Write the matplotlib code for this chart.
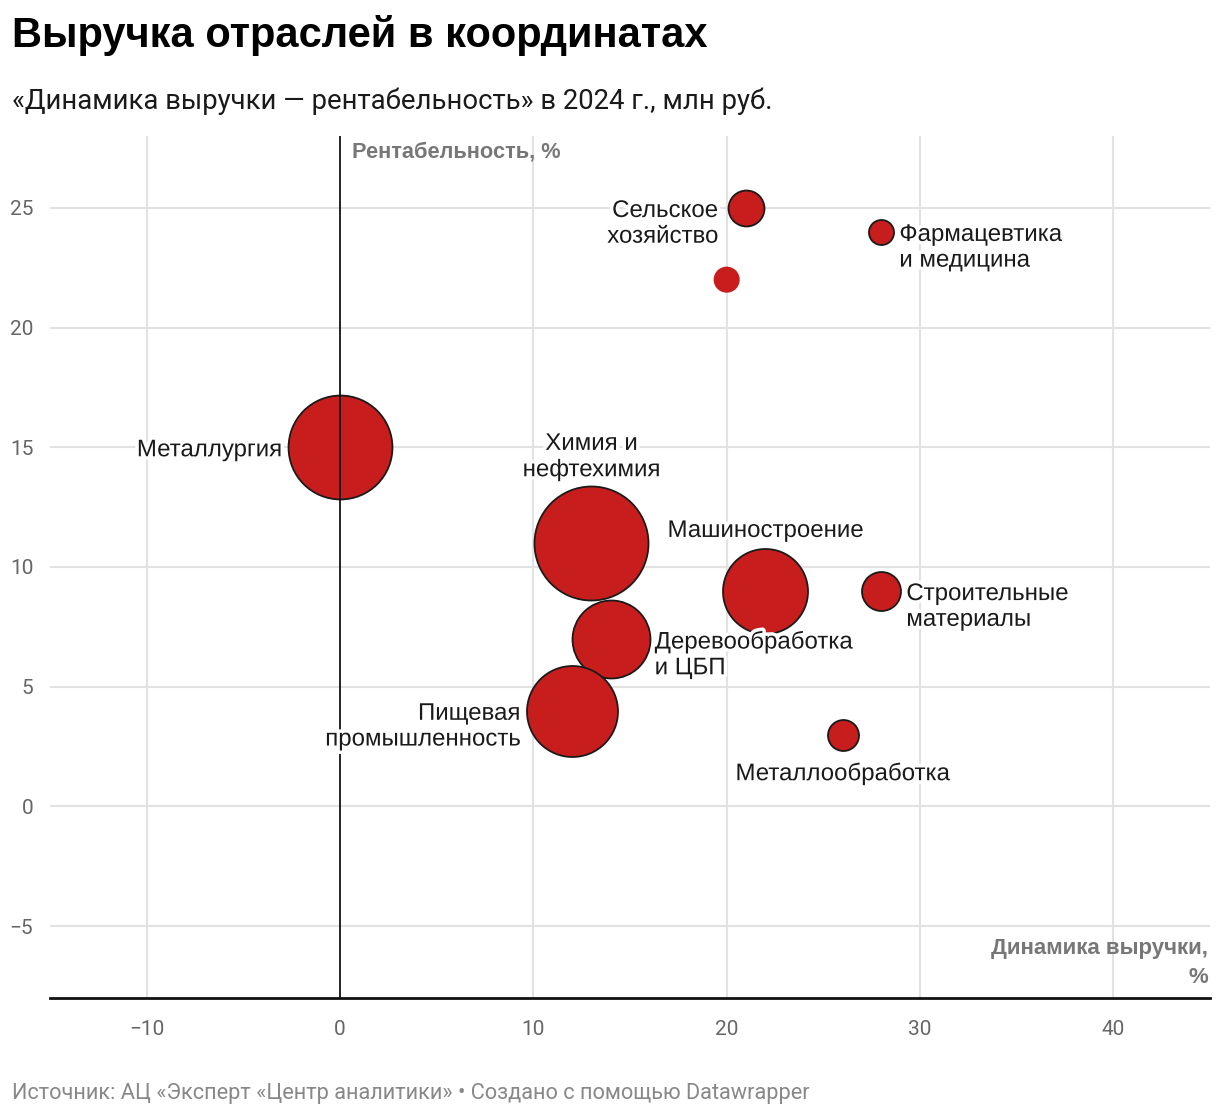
import matplotlib
matplotlib.use("Agg")
import matplotlib.pyplot as plt
import matplotlib.patheffects as pe
import numpy as np
from matplotlib import font_manager

# ---- data ----
industries = ["Металлургия", "Химия и\nнефтехимия", "Машиностроение", "Деревообработка\nи ЦБП",
              "Пищевая\nпромышленность", "Сельское\nхозяйство", "", "Фармацевтика\nи медицина",
              "Строительные\nматериалы", "Металлообработка"]
revenue_growth = [0, 13, 22, 14, 12, 21, 20, 28, 28, 26]          # %
profitability = [15, 11, 9, 7, 4, 25, 22, 24, 9, 3]               # %
revenue = [8100, 9750, 5420, 4560, 6210, 970, 510, 470, 1140, 720]  # bubble size values (estimated)
has_outline = [True, True, True, True, True, True, False, True, True, True]
x_ticks = [-10, 0, 10, 20, 30, 40]
y_ticks = [-5, 0, 5, 10, 15, 20, 25]

# label placement (offset in pixels, alignment)
label_pos = [(-58, -3, "right"), (0, 86, "center"), (0, 60, "center"), (44, -16, "left"),
             (-52, -16, "right"), (-28, -16, "right"), (0, 0, "center"), (18, -16, "left"),
             (25, -16, "left"), (0, -39, "center")]

names = {f.name for f in font_manager.fontManager.ttflist}
def pick(*cands):
    for c in cands:
        if c in names:
            return c
    return "DejaVu Sans"

title_font = pick("Liberation Sans Narrow", "Liberation Sans", "Roboto")
label_font = pick("Liberation Sans", "Roboto")
tick_font = pick("Roboto", "Liberation Sans")

DPI = 100
fig = plt.figure(figsize=(12.2, 11.16), dpi=DPI)
ax = fig.add_axes([50/1220, 1-998/1116, 1160/1220, (998-136)/1116])
ax.set_xlim(-15, 45)
ax.set_ylim(-8, 28)

grid_c = "#e2e2e2"
for xt in x_ticks:
    if xt != 0:
        ax.axvline(xt, color=grid_c, lw=1.5, zorder=0)
for yt in y_ticks:
    ax.axhline(yt, color=grid_c, lw=1.5, zorder=0)

for s in ["top", "right", "left"]:
    ax.spines[s].set_visible(False)
ax.spines["bottom"].set_color("#111111")
ax.spines["bottom"].set_linewidth(2)
ax.spines["bottom"].set_zorder(5)

# bubbles
rmax_px = 57.0
rev_max = max(revenue)
radii_px = [rmax_px * np.sqrt(r / rev_max) for r in revenue]
sizes = [(2 * r * 72 / DPI) ** 2 for r in radii_px]
for x, y, s, o in zip(revenue_growth, profitability, sizes, has_outline):
    ax.scatter([x], [y], s=s, color="#c71e1d", edgecolors="#1a1a1a" if o else "none",
               linewidths=1.3 if o else 0, zorder=3)

ax.axvline(0, color="#111111", lw=1.3, zorder=4)

# labels
halo = [pe.withStroke(linewidth=5, foreground="white")]
for name, x, y, (dx, dy, ha) in zip(industries, revenue_growth, profitability, label_pos):
    if not name:
        continue
    ax.annotate(name, xy=(x, y), xytext=(dx, dy), textcoords="offset pixels",
                ha=ha, va="center", fontsize=17.3, family=label_font, color="#1a1a1a",
                linespacing=1.22, zorder=6, path_effects=halo)

ax.set_xticks(x_ticks)
ax.set_yticks(y_ticks)
ax.set_xticklabels([f"{t}".replace("-", "−") for t in x_ticks])
ax.set_yticklabels([f"{t}".replace("-", "−") for t in y_ticks])
ax.tick_params(axis="both", length=0, labelsize=15, labelcolor="#666666")
ax.tick_params(axis="x", pad=16)
ax.tick_params(axis="y", pad=12)
for lab in ax.get_xticklabels() + ax.get_yticklabels():
    lab.set_family(tick_font)

# axis titles
ax.annotate("Рентабельность, %", xy=(0, 28), xytext=(12, -16), textcoords="offset pixels",
            ha="left", va="center", fontsize=15.7, fontweight="bold", color="#777777",
            family=label_font, zorder=6)
ax.annotate("Динамика выручки,\n%", xy=(45, -8), xytext=(-2, 35), textcoords="offset pixels",
            ha="right", va="center", fontsize=16, fontweight="bold", color="#777777",
            family=label_font, linespacing=1.5, zorder=6)

# title, subtitle, footer
fig.text(12/1220, 1-35/1116, "Выручка отраслей в координатах", ha="left", va="center",
         fontsize=30, fontweight="bold", family=title_font, color="#000000")
fig.text(12/1220, 1-101/1116, "«Динамика выручки — рентабельность» в 2024 г., млн руб.",
         ha="left", va="center", fontsize=19.8, family=tick_font, color="#1a1a1a")
fig.text(12/1220, 1-1094/1116,
         "Источник: АЦ «Эксперт «Центр аналитики» • Создано с помощью Datawrapper",
         ha="left", va="center", fontsize=15.7, family=tick_font, color="#888888")

fig.savefig("out.png", dpi=DPI, facecolor="white")
